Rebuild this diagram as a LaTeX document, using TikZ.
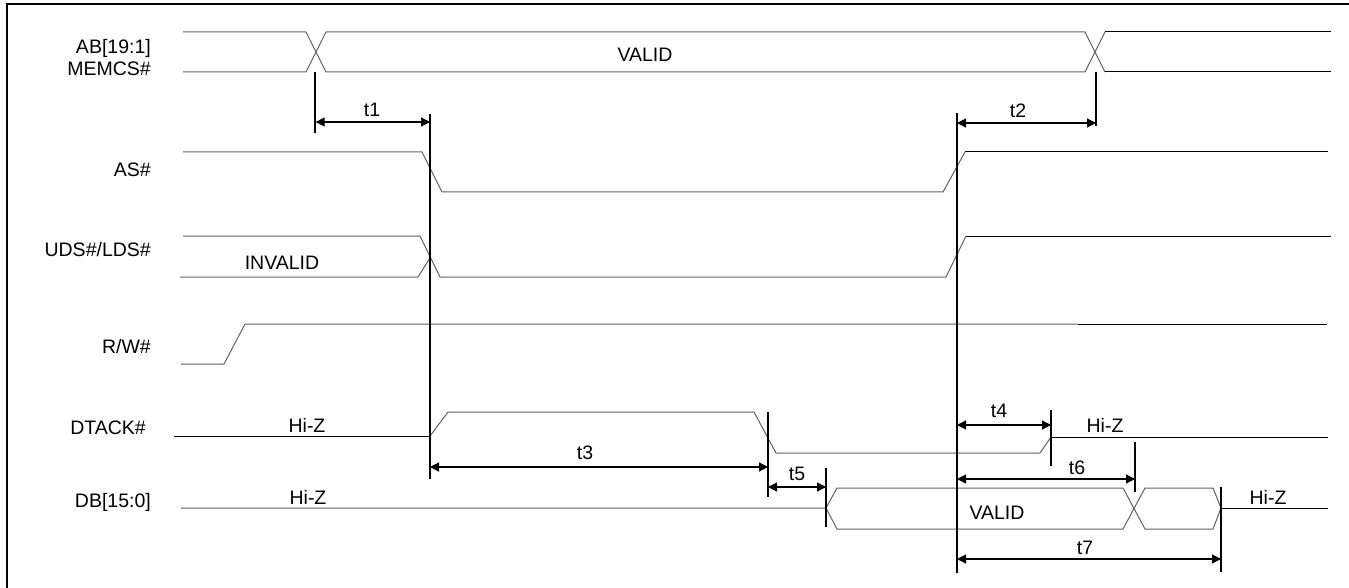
\documentclass[tikz,border=0pt]{standalone}
\usepackage{fontspec}
\setmainfont{Liberation Sans}
\usetikzlibrary{arrows.meta}
\begin{document}
\begin{tikzpicture}[x=1pt,y=-1pt,
  sig/.style={draw=black!62,line width=1pt,line join=miter},
  sigk/.style={draw=black,line width=1pt},
  vmark/.style={draw=black,line width=1.2pt},
  dim/.style={draw=black,line width=1.2pt,{Triangle[length=9pt,width=9pt]}-{Triangle[length=9pt,width=9pt]}},
  lbl/.style={font=\fontsize{19.5}{21.5}\selectfont,inner sep=0pt},
  signame/.style={lbl,anchor=east,align=right}]
\useasboundingbox (0,0) rectangle (1349,588);
\draw[line width=1.7pt] (7,588) -- (7,4) -- (1349,4);

% signal names
\node[signame] (nab) at (151,57.5) {AB[19:1]\\MEMCS\#};
\node[signame] (nas) at (151,170) {AS\#};
\node[signame] (nuds) at (151,250) {UDS\#/LDS\#};
\node[signame] (nrw) at (151,347) {R/W\#};
\node[signame] (ndt) at (146,428) {DTACK\#};
\node[signame] (ndb) at (151,502) {DB[15:0]};

% AB / MEMCS
\draw[sig] (183,32) -- (306,32) -- (326,72) -- (1085,72) -- (1105,32);
\draw[sig] (183,72) -- (306,72) -- (326,32) -- (1085,32) -- (1105,72);
\draw[sigk] (1105,32) -- (1331,32);
\draw[sigk] (1105,72) -- (1331,72);
\node[lbl] (abvalid) at (645,55) {VALID};

% AS#
\draw[sig] (183,152) -- (422,152) -- (442,192) -- (943,192) -- (965,152);
\draw[sigk] (965,152) -- (1328,152);

% UDS/LDS
\draw[sig] (183,236) -- (420,236) -- (440,277) -- (946,277) -- (966,236);
\draw[sigk] (966,236) -- (1331,236);
\draw[sig] (180,277) -- (418,277) -- (430,258);
\node[lbl] (invalid) at (282,263) {INVALID};

% R/W#
\draw[sig] (181,364) -- (224,364) -- (245,324) -- (1078,324);
\draw[sigk] (1078,324) -- (1327,324);

% DTACK#
\draw[sigk] (174,436) -- (430,436);
\draw[sig] (430,436) -- (448,412) -- (754,412) -- (776,453) -- (1040,453) -- (1051,437);
\draw[sigk] (1051,437) -- (1328,437);
\node[lbl] (dthiz1) at (307,425) {Hi-Z};
\node[lbl] (dthiz2) at (1105,425) {Hi-Z};

% DB[15:0]
\draw[sig] (181,508) -- (826,508) -- (837,488) -- (1123,488) -- (1145,529) -- (1213,529) -- (1221,508);
\draw[sig] (826,508) -- (837,529) -- (1123,529) -- (1145,488) -- (1213,488) -- (1221,508);
\draw[sigk] (1221,508) -- (1328,508);
\node[lbl] (dbhiz1) at (308,497) {Hi-Z};
\node[lbl] (dbvalid) at (997,513) {VALID};
\node[lbl] (dbhiz2) at (1268,497) {Hi-Z};

% vertical reference lines
\coordinate (v1t) at (315,72);   \coordinate (v1b) at (315,133);
\coordinate (v2t) at (430,114);  \coordinate (v2b) at (430,479);
\coordinate (v3t) at (957,113);  \coordinate (v3b) at (957,573);
\coordinate (v4t) at (1096,72);  \coordinate (v4b) at (1096,126);
\coordinate (v5t) at (768,412);  \coordinate (v5b) at (768,497);
\coordinate (v6t) at (1051,410); \coordinate (v6b) at (1051,466);
\coordinate (v7t) at (826,468);  \coordinate (v7b) at (826,527);
\coordinate (v8t) at (1135,442); \coordinate (v8b) at (1135,492);
\coordinate (v9t) at (1221,487); \coordinate (v9b) at (1221,572);
\foreach \i in {1,...,9} {\draw[vmark] (v\i t) -- (v\i b);}

% dimension arrows
\coordinate (d1a) at (315.6,122); \coordinate (d1b) at (430,122);
\coordinate (d2a) at (957,123);   \coordinate (d2b) at (1096,123);
\coordinate (d3a) at (430,467);   \coordinate (d3b) at (768,467);
\coordinate (d4a) at (957,425);   \coordinate (d4b) at (1051,425);
\coordinate (d5a) at (768,487);   \coordinate (d5b) at (826,487);
\coordinate (d6a) at (957,479);   \coordinate (d6b) at (1135,479);
\coordinate (d7a) at (957,559);   \coordinate (d7b) at (1221,559);
\draw[dim] (d1a) -- (d1b);
\draw[dim] (d2a) -- (d2b);
\draw[dim] (d3a) -- (d3b);
\draw[dim] (d4a) -- (d4b);
\draw[dim] (d5a) -- (d5b);
\draw[dim] (d6a) -- (d6b);
\draw[dim] (d7a) -- (d7b);
\node[lbl] (lt1) at (372,110) {t1};
\node[lbl] (lt2) at (1018,111) {t2};
\node[lbl] (lt3) at (585,453) {t3};
\node[lbl] (lt4) at (999,411) {t4};
\node[lbl] (lt5) at (797,474) {t5};
\node[lbl] (lt6) at (1077,468) {t6};
\node[lbl] (lt7) at (1085,548) {t7};
\end{tikzpicture}
\end{document}
